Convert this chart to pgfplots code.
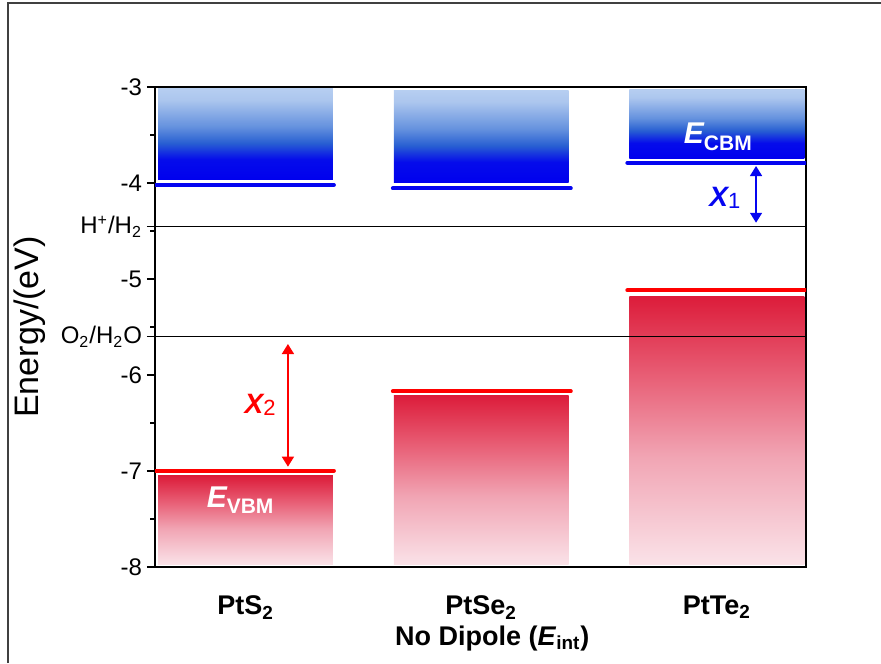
\documentclass[border=0pt]{standalone}
\usepackage{pgfplots}
\pgfplotsset{compat=1.18}
\usepackage{fontspec}
\setmainfont{Liberation Sans}
\usetikzlibrary{arrows.meta}
% blue shading colours
\definecolor{bA}{RGB}{0,0,238}
\definecolor{bB}{RGB}{5,12,235}
\definecolor{bC}{RGB}{40,95,210}
\definecolor{bD}{RGB}{100,145,222}
\definecolor{bE}{RGB}{172,198,238}
\definecolor{bF}{RGB}{182,206,241}
% red shading colours
\definecolor{rA}{RGB}{250,226,232}
\definecolor{rB}{RGB}{241,165,180}
\definecolor{rC}{RGB}{232,95,118}
\definecolor{rD}{RGB}{220,28,58}
\definecolor{cbmline}{RGB}{5,5,240}
\definecolor{vbmline}{RGB}{255,0,0}
\definecolor{framegray}{RGB}{64,64,64}
\pgfdeclareverticalshading{blueshade}{100bp}{color(0bp)=(bA); color(25bp)=(bA); color(36bp)=(bB); color(45bp)=(bC); color(54bp)=(bD); color(69bp)=(bE); color(75bp)=(bF); color(100bp)=(bF)}
\pgfdeclareverticalshading{redshade}{100bp}{color(0bp)=(rA); color(25bp)=(rA); color(45bp)=(rB); color(60bp)=(rC); color(75bp)=(rD); color(100bp)=(rD)}
\begin{document}
\begin{tikzpicture}
\useasboundingbox (0pt,0pt) rectangle (440.5pt,-331.5pt);
\draw[line width=1pt, framegray] (4pt,-331.5pt) -- (4pt,-1.5pt) -- (440.5pt,-1.5pt);
\begin{axis}[
  at={(77.5pt,-283.5pt)}, anchor=south west,
  width=325.5pt, height=240pt, scale only axis,
  xmin=-0.384, xmax=2.378, ymin=-8, ymax=-3,
  axis line style={line width=0.8pt},
  xtick={0,1,2},
  xticklabels={PtS\textsubscript{2},PtSe\textsubscript{2},PtTe\textsubscript{2}},
  major x tick style=transparent,
  ytick={-8,-7,-6,-5,-4,-3},
  yticklabels={-8,-7,-6,-5,-4,-3},
  minor ytick={-7.5,-6.5,-5.5,-4.5,-3.5},
  extra y ticks={-4.455,-5.60},
  extra y tick labels={H\textsuperscript{+}/H\textsubscript{2},O\textsubscript{2}/H\textsubscript{2}O},
  ytick pos=left, xtick pos=bottom, tick align=outside,
  major tick length=4pt, minor tick length=2.5pt,
  every tick/.style={black, line width=0.6pt},
  yticklabel style={font=\fontsize{12}{14}\selectfont, xshift=1pt},
  xticklabel style={font=\bfseries\fontsize{13.5}{15}\selectfont, yshift=-7pt},
  xlabel={No Dipole (\textit{E}\textsubscript{int})},
  xlabel style={font=\bfseries\fontsize{13.5}{15}\selectfont, at={(axis description cs:0.518,-0.149)}, anchor=center},
  ylabel={Energy/(eV)},
  ylabel style={font=\fontsize{17}{20}\selectfont, at={(axis description cs:-0.192,0.5)}, anchor=center},
]
% conduction band blocks
\addplot[draw=none, shade, shading=blueshade] coordinates {(-0.371,-3.02) (0.371,-3.02) (0.371,-3.96) (-0.371,-3.96)} -- cycle;
\addplot[draw=none, shade, shading=blueshade] coordinates {(0.629,-3.04) (1.371,-3.04) (1.371,-3.99) (0.629,-3.99)} -- cycle;
\addplot[draw=none, shade, shading=blueshade] coordinates {(1.629,-3.025) (2.371,-3.025) (2.371,-3.74) (1.629,-3.74)} -- cycle;
% valence band blocks
\addplot[draw=none, shade, shading=redshade] coordinates {(-0.371,-7.05) (0.371,-7.05) (0.371,-7.97) (-0.371,-7.97)} -- cycle;
\addplot[draw=none, shade, shading=redshade] coordinates {(0.629,-6.21) (1.371,-6.21) (1.371,-7.97) (0.629,-7.97)} -- cycle;
\addplot[draw=none, shade, shading=redshade] coordinates {(1.629,-5.18) (2.371,-5.18) (2.371,-7.97) (1.629,-7.97)} -- cycle;
% CBM lines
\addplot[cbmline, line width=2pt, line cap=round] coordinates {(-0.38,-4.02) (0.375,-4.02)};
\addplot[cbmline, line width=2pt, line cap=round] coordinates {(0.625,-4.055) (1.38,-4.055)};
\addplot[cbmline, line width=2pt, line cap=round] coordinates {(1.62,-3.79) (2.39,-3.79)};
% VBM lines
\addplot[vbmline, line width=2pt, line cap=round] coordinates {(-0.39,-6.997) (0.375,-6.997)};
\addplot[vbmline, line width=2pt, line cap=round] coordinates {(0.625,-6.17) (1.38,-6.17)};
\addplot[vbmline, line width=2pt, line cap=round] coordinates {(1.62,-5.118) (2.39,-5.118)};
% redox potentials
\addplot[black, line width=0.75pt] coordinates {(-0.384,-4.455) (2.378,-4.455)};
\addplot[black, line width=0.75pt] coordinates {(-0.384,-5.60) (2.378,-5.60)};
% arrows
\addplot[cbmline, line width=0.75pt, {Triangle[width=6pt,length=5pt]}-{Triangle[width=6pt,length=5pt]}] coordinates {(2.166,-3.823) (2.166,-4.414)};
\addplot[vbmline, line width=0.75pt, {Triangle[width=6pt,length=5pt]}-{Triangle[width=6pt,length=5pt]}] coordinates {(0.180,-5.677) (0.180,-6.955)};
% labels
\node[anchor=base, text=white, inner sep=0pt] at (axis cs:2.004,-3.586) {{\fontsize{15}{15}\selectfont\bfseries\itshape E}\raisebox{-3.5pt}{\fontsize{10.5}{12}\selectfont\bfseries CBM}};
\node[anchor=base, text=white, inner sep=0pt] at (axis cs:-0.023,-7.375) {{\fontsize{15}{15}\selectfont\bfseries\itshape E}\raisebox{-3pt}{\fontsize{10.5}{12}\selectfont\bfseries VBM}};
\node[anchor=base, text=cbmline, inner sep=0pt] at (axis cs:2.034,-4.247) {{\fontsize{14}{14}\selectfont\bfseries\itshape X}\raisebox{-1pt}{\fontsize{11}{12}\selectfont 1}};
\node[anchor=base, text=vbmline, inner sep=0pt] at (axis cs:0.062,-6.396) {{\fontsize{14}{14}\selectfont\bfseries\itshape X}\raisebox{-1pt}{\fontsize{11}{12}\selectfont 2}};
\end{axis}
\end{tikzpicture}
\end{document}
